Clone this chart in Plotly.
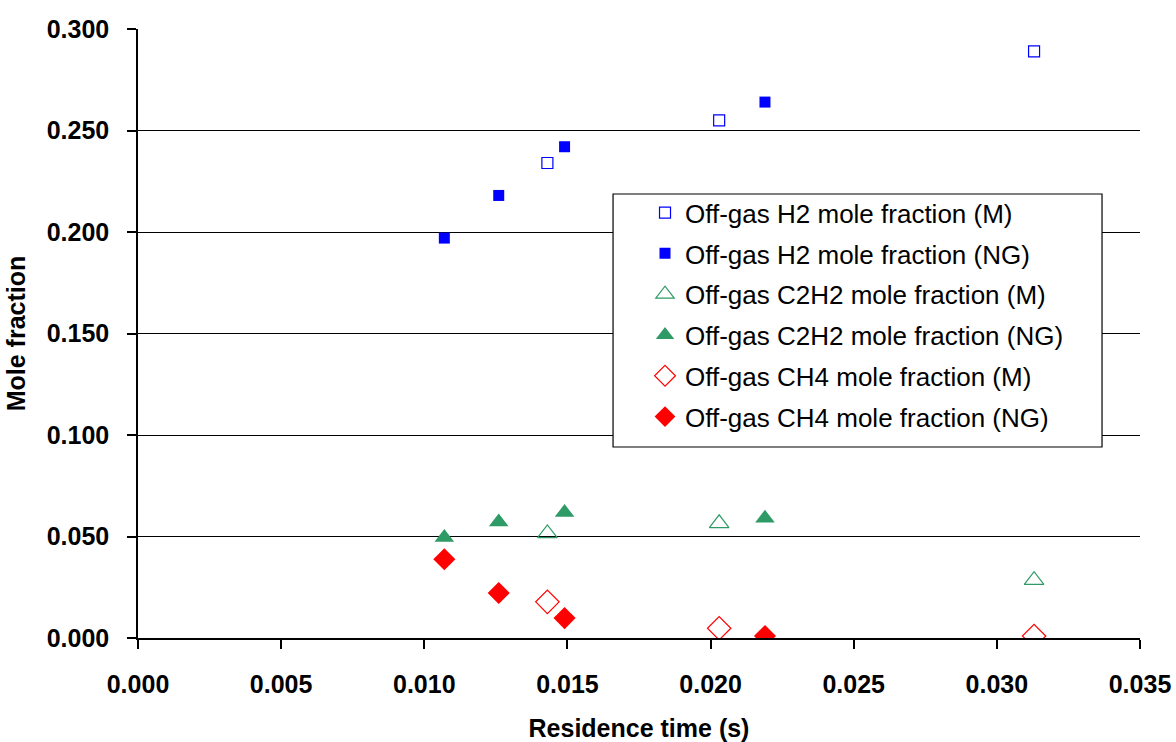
import plotly.graph_objects as go

# Residence time (s)
x_M = [0.0143, 0.0203, 0.0313]
x_NG = [0.0107, 0.0126, 0.0149, 0.0219]

h2_M = [0.234, 0.255, 0.289]
h2_NG = [0.197, 0.218, 0.242, 0.264]
c2h2_M = [0.0515, 0.0565, 0.0285]
c2h2_NG = [0.0495, 0.0572, 0.0618, 0.0590]
ch4_M = [0.0178, 0.0048, 0.0010]
ch4_NG = [0.0388, 0.0222, 0.0098, 0.0010]

series_names = [
    "Off-gas H2 mole fraction (M)",
    "Off-gas H2 mole fraction (NG)",
    "Off-gas C2H2 mole fraction (M)",
    "Off-gas C2H2 mole fraction (NG)",
    "Off-gas CH4 mole fraction (M)",
    "Off-gas CH4 mole fraction (NG)",
]

BLUE = "#0000FF"
GREEN = "#2E9A66"
RED = "#FF0000"
FONT = "Liberation Sans"

fig = go.Figure()
specs = [
    (x_M, h2_M, dict(symbol="square-open", size=11, color=BLUE, line=dict(width=1.2, color=BLUE))),
    (x_NG, h2_NG, dict(symbol="square", size=11, color=BLUE, line=dict(width=0))),
    (x_M, c2h2_M, dict(symbol="triangle-up-open", size=17, color=GREEN, line=dict(width=1.2, color=GREEN))),
    (x_NG, c2h2_NG, dict(symbol="triangle-up", size=17, color=GREEN, line=dict(width=0))),
    (x_M, ch4_M, dict(symbol="diamond-open", size=18, color=RED, line=dict(width=1.2, color=RED))),
    (x_NG, ch4_NG, dict(symbol="diamond", size=17, color=RED, line=dict(width=0))),
]
for i, (xs, ys, mk) in enumerate(specs):
    fig.add_trace(go.Scatter(x=xs, y=ys, mode="markers", name=series_names[i],
                             legendgroup=f"g{i}", marker=mk))

# legend frame
fig.add_shape(type="rect", xref="paper", yref="paper",
              x0=0.4741, x1=0.9621, y0=0.3136, y1=0.7291,
              fillcolor="white", line=dict(color="black", width=1.2), layer="above")

fig.update_layout(
    width=1176, height=742,
    margin=dict(l=138, r=36, t=29, b=104),
    paper_bgcolor="white", plot_bgcolor="white",
    font=dict(family=FONT, size=25, color="black"),
    showlegend=True,
    legend=dict(
        x=0.506, y=0.737, xanchor="left", yanchor="top",
        bgcolor="rgba(0,0,0,0)", borderwidth=0,
        font=dict(family=FONT, size=26, color="black"),
        itemwidth=30, tracegroupgap=4,
    ),
    xaxis=dict(
        range=[0, 0.035], dtick=0.005, tick0=0, tickformat=".3f",
        showgrid=False, zeroline=False, automargin=False,
        showline=True, linecolor="black", linewidth=1.5,
        ticks="outside", ticklen=9, tickcolor="black", tickwidth=1.5,
        ticklabelstandoff=14,
        tickfont=dict(family=FONT, size=25, weight="bold"),
        title=dict(text="Residence time (s)", font=dict(family=FONT, size=25, weight="bold"), standoff=24),
    ),
    yaxis=dict(
        range=[0, 0.3], dtick=0.05, tick0=0, tickformat=".3f",
        showgrid=True, gridcolor="black", gridwidth=1,
        zeroline=False, automargin=False,
        showline=True, linecolor="black", linewidth=1.5,
        ticks="outside", ticklen=9, tickcolor="black", tickwidth=1.5,
        ticklabelstandoff=13,
        tickfont=dict(family=FONT, size=25, weight="bold"),
        title=dict(text="Mole fraction", font=dict(family=FONT, size=25, weight="bold"), standoff=14),
    ),
)

fig.write_html("out.html")
